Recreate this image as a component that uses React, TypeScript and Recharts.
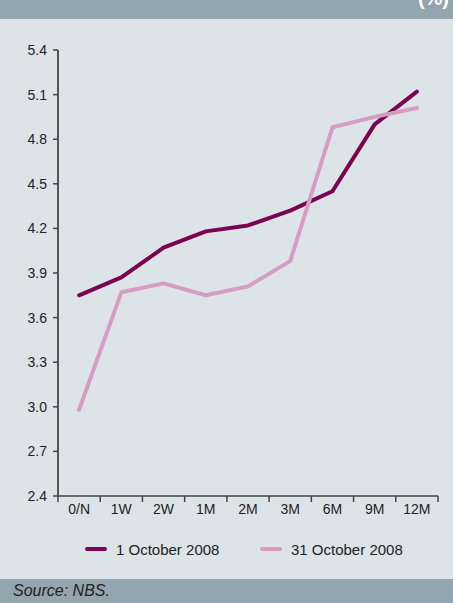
import React from "react";
import { LineChart, Line, XAxis, YAxis } from "recharts";

const categories = ["0/N", "1W", "2W", "1M", "2M", "3M", "6M", "9M", "12M"];
const oct1 = [3.75, 3.87, 4.07, 4.18, 4.22, 4.32, 4.45, 4.9, 5.12];
const oct31 = [2.98, 3.77, 3.83, 3.75, 3.81, 3.98, 4.88, 4.95, 5.01];
const yTicks = [2.4, 2.7, 3.0, 3.3, 3.6, 3.9, 4.2, 4.5, 4.8, 5.1, 5.4];
const seriesNames = ["1 October 2008", "31 October 2008"];
const seriesColors = ["#7b0352", "#d69cc4"];

const data = categories.map((c, i) => ({ cat: c, a: oct1[i], b: oct31[i] }));

const FONT = "'Liberation Sans', Arial, sans-serif";

const XTick = (props: any) => {
  const { x, y, payload, index } = props;
  const off = payload && payload.offset ? payload.offset : 21;
  return (
    <g>
      <text x={x} y={y + 18} textAnchor="middle" fontSize={14} fill="#222" fontFamily={FONT}>
        {payload.value}
      </text>
      <line x1={x + off} x2={x + off} y1={y} y2={y + 6} stroke="#444" strokeWidth={1.5} />
      {index === 0 && <line x1={x - off} x2={x - off} y1={y} y2={y + 6} stroke="#444" strokeWidth={1.5} />}
    </g>
  );
};

export default function App() {
  return (
    <div
      style={{
        position: "fixed",
        left: 0,
        top: 0,
        width: 453,
        height: 603,
        background: "#dde4e7",
        overflow: "hidden",
        fontFamily: FONT,
      }}
    >
      <div style={{ position: "absolute", left: 0, top: 0, width: 453, height: 19, background: "#93a5ae", overflow: "hidden" }}>
        <div style={{ position: "absolute", right: 4, top: -13, color: "#fff", fontSize: 20, fontWeight: "bold" }}>(%)</div>
      </div>
      <div style={{ position: "absolute", left: 0, top: 0 }}>
        <LineChart width={453} height={530} data={data} margin={{ top: 50, right: 15, left: 0, bottom: 0 }}>
          <XAxis
            dataKey="cat"
            scale="band"
            height={34}
            tickLine={false}
            tickSize={0}
            tickMargin={0}
            tick={<XTick />}
            interval={0}
            axisLine={{ stroke: "#444", strokeWidth: 1.5 }}
          />
          <YAxis
            domain={[2.4, 5.4]}
            ticks={yTicks}
            width={58}
            tickSize={5}
            tickMargin={6}
            tickFormatter={(v: number) => v.toFixed(1)}
            tick={{ fontSize: 14, fill: "#222", fontFamily: FONT }}
            tickLine={{ stroke: "#444", strokeWidth: 1.5 }}
            axisLine={{ stroke: "#555", strokeWidth: 2 }}
            interval={0}
          />
          <Line dataKey="a" stroke={seriesColors[0]} strokeWidth={4} dot={false} isAnimationActive={false} strokeLinecap="round" strokeLinejoin="round" />
          <Line dataKey="b" stroke={seriesColors[1]} strokeWidth={4} dot={false} isAnimationActive={false} strokeLinecap="round" strokeLinejoin="round" />
        </LineChart>
      </div>
      {seriesNames.map((n, i) => (
        <div key={n} style={{ position: "absolute", left: i === 0 ? 85 : 260, top: 540, display: "flex", alignItems: "center", height: 18 }}>
          <div style={{ width: 22, height: 4, borderRadius: 2, background: seriesColors[i], marginRight: 9 }} />
          <span style={{ fontSize: 15, color: "#222", whiteSpace: "nowrap" }}>{n}</span>
        </div>
      ))}
      <div style={{ position: "absolute", left: 0, top: 579, width: 453, height: 24, background: "#93a5ae" }}>
        <div style={{ position: "absolute", left: 13, top: 3, fontSize: 16, fontStyle: "italic", color: "#222" }}>Source: NBS.</div>
      </div>
    </div>
  );
}
